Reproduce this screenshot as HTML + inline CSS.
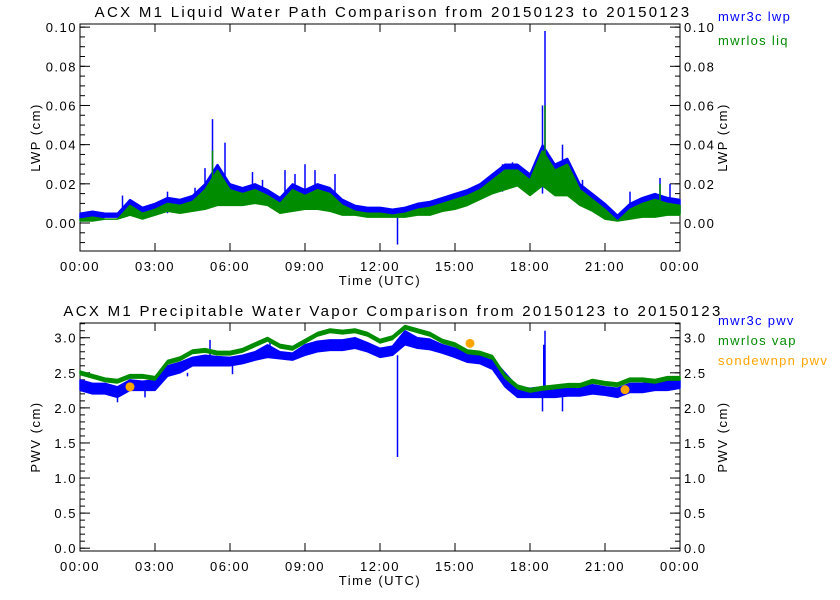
<!DOCTYPE html>
<html><head><meta charset="utf-8"><style>
body{margin:0;background:#fff}
svg{display:block;font-family:"Liberation Sans",sans-serif}
</style></head><body>
<svg id="c" width="840" height="600" xmlns="http://www.w3.org/2000/svg"></svg>
<script>
const times=[0,0.5,1,1.5,2,2.5,3,3.5,4,4.5,5,5.5,6,6.5,7,7.5,8,8.5,9,9.5,10,10.5,11,11.5,12,12.5,13,13.5,14,14.5,15,15.5,16,16.5,17,17.5,18,18.5,19,19.5,20,20.5,21,21.5,22,22.5,23,23.5,24];
const lwpLo=[.002,.002,.003,.003,.005,.003,.005,.007,.006,.007,.008,.01,.01,.01,.011,.01,.006,.007,.008,.008,.007,.005,.005,.004,.004,.004,.004,.005,.005,.007,.008,.01,.013,.016,.018,.02,.015,.02,.015,.015,.01,.007,.003,.002,.003,.004,.004,.005,.005];
const lwpHi=[.005,.006,.005,.005,.012,.008,.01,.013,.012,.014,.02,.03,.02,.018,.02,.017,.013,.02,.017,.02,.018,.012,.009,.008,.008,.007,.008,.01,.011,.013,.015,.017,.02,.025,.03,.03,.025,.04,.03,.033,.02,.015,.01,.004,.01,.013,.015,.013,.012];
const lwpSpikeT=[1.7,3.5,4.6,5.0,5.3,5.8,6.9,7.3,8.2,8.6,9.0,9.4,10.2,12.7,16.9,17.3,18.5,18.6,19.3,20.1,22.0,23.2,23.6];
const lwpSpikeV=[.014,.016,.018,.028,.053,.041,.026,.022,.027,.025,.03,.027,.025,-.011,.03,.031,.06,.098,.04,.022,.016,.023,.02];
const liqSpikeT=[5.3,18.6,23.2];
const liqSpikeV=[.037,.06,.02];
const pwvLo=[2.25,2.2,2.2,2.15,2.25,2.25,2.25,2.45,2.5,2.6,2.6,2.6,2.6,2.63,2.68,2.72,2.7,2.68,2.75,2.8,2.82,2.82,2.85,2.8,2.72,2.75,2.9,2.85,2.83,2.78,2.72,2.65,2.63,2.55,2.3,2.15,2.15,2.15,2.15,2.17,2.17,2.2,2.18,2.15,2.22,2.22,2.25,2.25,2.28];
const pwvHi=[2.4,2.35,2.35,2.3,2.4,2.38,2.4,2.6,2.65,2.72,2.75,2.73,2.72,2.75,2.8,2.9,2.8,2.78,2.9,2.95,2.97,2.97,3.0,2.93,2.85,2.88,3.1,3.0,2.98,2.9,2.85,2.78,2.77,2.7,2.5,2.3,2.28,2.3,2.3,2.3,2.3,2.33,2.3,2.28,2.35,2.35,2.36,2.38,2.4];
const vap=[2.5,2.45,2.4,2.38,2.45,2.45,2.42,2.65,2.7,2.8,2.82,2.78,2.78,2.82,2.9,2.98,2.88,2.85,2.95,3.05,3.1,3.08,3.1,3.05,2.95,3.0,3.15,3.1,3.05,2.95,2.9,2.8,2.78,2.72,2.45,2.3,2.25,2.28,2.3,2.32,2.32,2.38,2.35,2.33,2.4,2.4,2.38,2.42,2.42];
const pwvSpikeT=[1.5,2.6,4.3,5.2,6.1,7.6,12.7,18.5,18.55,18.6,19.3];
const pwvSpikeV=[2.08,2.15,2.45,2.97,2.48,2.95,1.3,1.95,2.9,3.1,1.95];
const sondeT=[2.0,15.6,21.8];
const sondeV=[2.3,2.92,2.26];
const xTicks=["00:00","03:00","06:00","09:00","12:00","15:00","18:00","21:00","00:00"];
const lwpTicks=[0,0.02,0.04,0.06,0.08,0.10];
const pwvTicks=[0,0.5,1,1.5,2,2.5,3];

const S=document.getElementById('c'),NS='http://www.w3.org/2000/svg';
function el(t,a,p){const e=document.createElementNS(NS,t);for(const k in a)e.setAttribute(k,a[k]);(p||S).appendChild(e);return e;}
const X0=80,X1=680;
const xs=h=>X0+h/24*(X1-X0);
function txt(x,y,s,o){const t=el('text',Object.assign({x:x,y:y,'font-size':13,'letter-spacing':1.5,fill:'#000'},o||{}));t.textContent=s;return t;}

function panel(top,bot,ymin,ymax,ticks,dec,minor,title,ylab,name){
  const ys=v=>bot-(v-ymin)/(ymax-ymin)*(bot-top);
  const g=el('g',{});
  
  
  const f=el('rect',{x:X0,y:top,width:X1-X0,height:bot-top,fill:'none',stroke:'#000','stroke-width':1},g);
  
  
  const t=txt(393,top-7,title,{'text-anchor':'middle','font-size':15,'letter-spacing':2.3});
  
  
  xTicks.forEach((l,i)=>{const x=xs(i*3);
    el('line',{x1:x,x2:x,y1:bot,y2:bot-8,stroke:'#000'},g);el('line',{x1:x,x2:x,y1:top,y2:top+8,stroke:'#000'},g);
    const tl=txt(x,bot+20,l,{'text-anchor':'middle'});
    
    });
  for(let v=Math.ceil(ymin/minor)*minor;v<=ymax+1e-9;v+=minor){const y=ys(v);
    el('line',{x1:X0,x2:X0+5,y1:y,y2:y,stroke:'#000'},g);el('line',{x1:X1,x2:X1-5,y1:y,y2:y,stroke:'#000'},g);}
  ticks.forEach(v=>{const y=ys(v);
    el('line',{x1:X0,x2:X0+10,y1:y,y2:y,stroke:'#000'},g);el('line',{x1:X1,x2:X1-10,y1:y,y2:y,stroke:'#000'},g);
    const a=txt(X0-3,y+5,v.toFixed(dec),{'text-anchor':'end'});
    
    
    const b=txt(X1+4,y+5,v.toFixed(dec),{});
    
    });
  const mid=(top+bot)/2;
  const l1=txt(0,0,ylab,{'text-anchor':'middle',transform:`translate(40,${mid}) rotate(-90)`});
  
  
  const l2=txt(0,0,ylab,{'text-anchor':'middle',transform:`translate(${X1+47},${mid}) rotate(-90)`});
  
  
  const xl=txt(380,bot+34,'Time (UTC)',{'text-anchor':'middle'});
  
  
  return ys;
}
function band(lo,hi,ys,color,name){
  let d='M'+times.map((t,i)=>xs(t)+','+ys(hi[i])).join('L');
  for(let i=times.length-1;i>=0;i--)d+='L'+xs(times[i])+','+ys(lo[i]);
  const p=el('path',{d:d+'Z',fill:color,stroke:color,'stroke-width':1.5,'stroke-linejoin':'bevel'});
  
  
}
function spikes(T,V,base,ys,color,name){
  T.forEach((t,i)=>{
    let j=0;while(j<times.length-1&&times[j+1]<t)j++;
    const b=base[j];
    const l=el('line',{x1:xs(t),x2:xs(t),y1:ys(b),y2:ys(V[i]),stroke:color,'stroke-width':1.5});
    
    });
}
function legend(y,s,c){const t=txt(718,y,s,{fill:c,'font-size':13,'letter-spacing':1.3});}

// top panel
const ys1=panel(24,251,-0.0143,0.1016,lwpTicks,2,0.005,'ACX M1 Liquid Water Path Comparison from 20150123 to 20150123','LWP (cm)','lwp-panel');
band(lwpLo,lwpHi,ys1,'#0000ff','mwr3c-lwp-series');
spikes(lwpSpikeT,lwpSpikeV,lwpLo,ys1,'#0000ff','mwr3c-lwp-spike');
band(lwpLo.map(v=>v-0.001),lwpHi.map(v=>v-0.003),ys1,'#008c00','mwrlos-liq-series');
spikes(liqSpikeT,liqSpikeV,lwpLo,ys1,'#008c00','mwrlos-liq-spike');
legend(21,'mwr3c lwp','#0000ff');legend(45,'mwrlos liq','#008c00');

// bottom panel
const ys2=panel(323,551,-0.04,3.21,pwvTicks,1,0.1,'ACX M1 Precipitable Water Vapor Comparison from 20150123 to 20150123','PWV (cm)','pwv-panel');
band(pwvLo,pwvHi,ys2,'#0000ff','mwr3c-pwv-series');
spikes(pwvSpikeT,pwvSpikeV,pwvLo,ys2,'#0000ff','mwr3c-pwv-spike');
band(vap.map(v=>v-0.025),vap.map(v=>v+0.025),ys2,'#008c00','mwrlos-vap-series');
sondeT.forEach((t,i)=>{const c=el('circle',{cx:xs(t),cy:ys2(sondeV[i]),r:4.5,fill:'#ffa500'});
  
  });
legend(325,'mwr3c pwv','#0000ff');legend(345,'mwrlos vap','#008c00');legend(365,'sondewnpn pwv','#ffa500');
</script>
</body></html>
